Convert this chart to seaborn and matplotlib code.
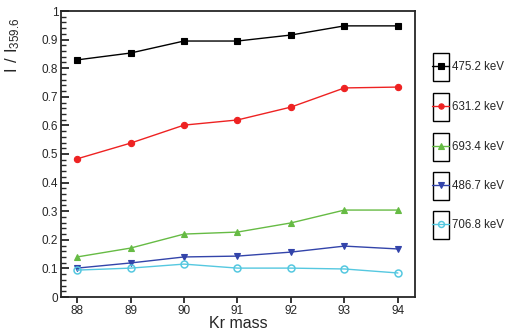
import numpy as np
import pandas as pd
import matplotlib
matplotlib.use("Agg")
import matplotlib.pyplot as plt
import seaborn as sns
from matplotlib.patches import Rectangle
from matplotlib.ticker import MultipleLocator

masses = [88, 89, 90, 91, 92, 93, 94]
e4752 = [0.829, 0.853, 0.895, 0.895, 0.916, 0.948, 0.948]
e6312 = [0.483, 0.538, 0.601, 0.619, 0.664, 0.731, 0.734]
e6934 = [0.140, 0.171, 0.220, 0.227, 0.259, 0.304, 0.304]
e4867 = [0.101, 0.119, 0.140, 0.143, 0.157, 0.178, 0.168]
e7068 = [0.094, 0.101, 0.115, 0.101, 0.101, 0.098, 0.084]
labels = ["475.2 keV", "631.2 keV", "693.4 keV", "486.7 keV", "706.8 keV"]
series = [e4752, e6312, e6934, e4867, e7068]
colors = ["#000000", "#ee2222", "#66bb44", "#3344aa", "#55c8e0"]
markers = ["s", "o", "^", "v", "o"]
fills = [True, True, True, True, False]

sns.set_style("ticks")
plt.rcParams['font.family'] = ['Liberation Sans', 'DejaVu Sans']
plt.rcParams['mathtext.fontset'] = 'custom'
plt.rcParams['mathtext.rm'] = 'Liberation Sans'

df = pd.DataFrame({"mass": masses * len(labels),
                   "value": sum(series, []),
                   "line": sum([[l] * len(masses) for l in labels], [])})

fig = plt.figure(figsize=(5.09, 3.31), dpi=100)
ax = fig.add_axes([61 / 509, 1 - 297 / 331, (415 - 61) / 509, (297 - 11) / 331])

msizes = {"s": 4.8, "o": 4.5, "^": 4.8, "v": 4.8}
handles = []
for lab, col, mk, fl in zip(labels, colors, markers, fills):
    sub = df[df["line"] == lab]
    sns.lineplot(data=sub, x="mass", y="value", ax=ax, color=col, lw=1.0,
                 marker=mk, markersize=msizes[mk] + (0.5 if not fl else 0),
                 markerfacecolor=col if fl else "none",
                 markeredgecolor=col, markeredgewidth=0.8 if fl else 1.1,
                 legend=False)
    handles.append(ax.lines[-1])

ax.set_xlim(87.7, 94.32)
ax.set_ylim(0, 1.0)
ax.xaxis.set_major_locator(MultipleLocator(1))
ax.yaxis.set_minor_locator(MultipleLocator(0.02))
ax.set_yticks(np.arange(0, 1.01, 0.1))
ax.set_yticklabels(["0"] + [f"{v:.1f}" for v in np.arange(0.1, 0.95, 0.1)] + ["1"])
ax.tick_params(axis="y", which="major", direction="in", length=6, width=1.3, labelsize=8.5, pad=2)
ax.tick_params(axis="y", which="minor", direction="in", length=3.5, width=1.0)
ax.tick_params(axis="x", which="major", direction="out", length=4, width=1.3, labelsize=8.5, pad=2)
for s in ax.spines.values():
    s.set_linewidth(1.3)
    s.set_visible(True)
ax.set_xlabel("Kr mass", fontsize=11.5, labelpad=0)
ax.xaxis.set_label_coords(0.5, -0.068)
ax.set_ylabel(r"$\mathregular{I\ /\ I_{359.6}}$", fontsize=12, labelpad=2)
ax.yaxis.set_label_coords(-0.11, 0.88)

# legend: one boxed handle per entry
ycent = [67, 107, 147, 186, 225]
for h, lab, yc in zip(handles, labels, ycent):
    yf = 1 - yc / 331
    fig.add_artist(Rectangle((432.5 / 509, yf - 14 / 331), 16.5 / 509, 28 / 331,
                             transform=fig.transFigure, fill=False, lw=1.0, ec="black"))
    fig.legend(handles=[h], labels=[lab], loc="center left",
               bbox_to_anchor=(432 / 509, yf), frameon=False, fontsize=8.3,
               handlelength=1.5, handletextpad=0.2, borderpad=0, borderaxespad=0,
               markerscale=0.85)

fig.savefig("out.png", dpi=100)
